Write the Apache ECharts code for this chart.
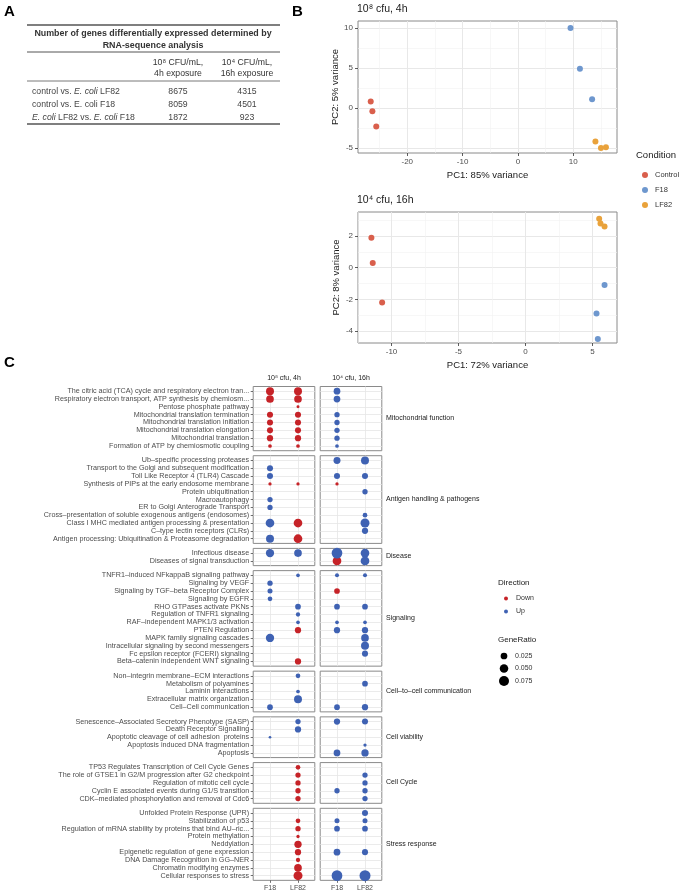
<!DOCTYPE html>
<html><head><meta charset="utf-8">
<script src="https://cdn.jsdelivr.net/npm/echarts@6/dist/echarts.min.js"></script>
<style>html,body{margin:0;padding:0;background:#fff}#c{width:679px;height:891px}</style>
</head><body><div id="c"></div>
<script>
// ---------------- Panel A: table ----------------
const tableTitle = ['Number of genes differentially expressed determined by', 'RNA-sequence analysis'];
const tableColHeads = [['10⁸ CFU/mL,', '4h exposure'], ['10⁴ CFU/mL,', '16h exposure']];
const tableRowLabels = ['control vs. {i|E. coli} LF82', 'control vs. E. coli F18', '{i|E. coli} LF82 vs. {i|E. coli} F18'];
const table4h = [8675, 8059, 1872];
const table16h = [4315, 4501, 923];

// ---------------- Panel B: PCA ----------------
const pcaTitles = ['10⁸ cfu, 4h', '10⁴ cfu, 16h'];
const pcaXNames = ['PC1: 85% variance', 'PC1: 72% variance'];
const pcaYNames = ['PC2: 5% variance', 'PC2: 8% variance'];
const conditionNames = ['Control', 'F18', 'LF82'];
const pca4hControl = [[-26.6, 0.8], [-26.3, -0.4], [-25.6, -2.3]];
const pca4hF18 = [[9.5, 10.0], [11.2, 4.9], [13.4, 1.1]];
const pca4hLF82 = [[14.0, -4.2], [15.0, -5.0], [15.9, -4.9]];
const pca16hControl = [[-11.5, 1.9], [-11.4, 0.3], [-10.7, -2.2]];
const pca16hF18 = [[5.9, -1.1], [5.3, -2.9], [5.4, -4.5]];
const pca16hLF82 = [[5.5, 3.1], [5.6, 2.8], [5.9, 2.6]];
const pca4hXTicks = [-20, -10, 0, 10];
const pca4hYTicks = [-5, 0, 5, 10];
const pca16hXTicks = [-10, -5, 0, 5];
const pca16hYTicks = [-4, -2, 0, 2];

// ---------------- Panel C: enrichment dot plot ----------------
const exposureLabels = ['10⁸ cfu, 4h', '10⁴ cfu, 16h'];
const strainLabels = ['F18', 'LF82'];
const directionNames = ['Down', 'Up'];
const geneRatioLegend = [0.025, 0.050, 0.075];
// GeneRatio per pathway: [4h F18, 4h LF82, 16h F18, 16h LF82]; sign = direction (- Down, + Up), 0 = not enriched
const groupNames = ['Mitochondrial function', 'Antigen handling & pathogens', 'Disease', 'Signaling',
  'Cell\u2013to\u2013cell communication', 'Cell viability', 'Cell Cycle', 'Stress response'];
const mitoPathways = ['The citric acid (TCA) cycle and respiratory electron tran...', 'Respiratory electron transport, ATP synthesis by chemiosm...',
  'Pentose phosphate pathway', 'Mitochondrial translation termination', 'Mitochondrial translation initiation',
  'Mitochondrial translation elongation', 'Mitochondrial translation', 'Formation of ATP by chemiosmotic coupling'];
const mitoRatios = [[-0.041, -0.041, 0.025, 0], [-0.037, -0.037, 0.025, 0], [0, -0.0006, 0, 0],
  [-0.018, -0.018, 0.0115, 0], [-0.018, -0.018, 0.0115, 0], [-0.018, -0.018, 0.0115, 0],
  [-0.02, -0.02, 0.0115, 0], [-0.0025, -0.0025, 0.0025, 0]];
const antigenPathways = ['Ub\u2013specific processing proteases', 'Transport to the Golgi and subsequent modification',
  'Toll Like Receptor 4 (TLR4) Cascade', 'Synthesis of PIPs at the early endosome membrane', 'Protein ubiquitination',
  'Macroautophagy', 'ER to Golgi Anterograde Transport', 'Cross\u2013presentation of soluble exogenous antigens (endosomes)',
  'Class I MHC mediated antigen processing & presentation', 'C\u2013type lectin receptors (CLRs)',
  'Antigen processing: Ubiquitination & Proteasome degradation'];
const antigenRatios = [[0, 0, 0.028, 0.041], [0.018, 0, 0, 0], [0.018, 0, 0.018, 0.018], [-0.0013, -0.0013, -0.0013, 0],
  [0, 0, 0, 0.0115], [0.0115, 0, 0, 0], [0.0115, 0, 0, 0], [0, 0, 0, 0.0073], [0.052, -0.052, 0, 0.057],
  [0, 0, 0, 0.02], [0.041, -0.052, 0, 0]];
const diseasePathways = ['Infectious disease', 'Diseases of signal transduction'];
const diseaseRatios = [[0.046, 0.037, 0.09, 0.052], [0, 0, -0.052, 0.052]];
const signalingPathways = ['TNFR1\u2013induced NFkappaB signaling pathway', 'Signaling by VEGF', 'Signaling by TGF\u2013beta Receptor Complex',
  'Signaling by EGFR', 'RHO GTPases activate PKNs', 'Regulation of TNFR1 signaling', 'RAF\u2013independent MAPK1/3 activation',
  'PTEN Regulation', 'MAPK family signaling cascades', 'Intracellular signaling by second messengers',
  'Fc epsilon receptor (FCERI) signaling', 'Beta\u2013catenin independent WNT signaling'];
const signalingRatios = [[0, 0.0025, 0.0037, 0.0037], [0.0115, 0, 0, 0], [0.0093, 0, -0.0147, 0], [0.0073, 0, 0, 0],
  [0, 0.0147, 0.0147, 0.0147], [0, 0.0051, 0, 0], [0, 0.0025, 0.0025, 0.0025], [0, -0.02, 0.02, 0.02],
  [0.046, 0, 0, 0.037], [0, 0, 0, 0.041], [0, 0, 0, 0.018], [0, -0.02, 0, 0]];
const cellPathways = ['Non\u2013integrin membrane\u2013ECM interactions', 'Metabolism of polyamines', 'Laminin interactions',
  'Extracellular matrix organization', 'Cell\u2013Cell communication'];
const cellRatios = [[0, 0.0073, 0, 0], [0, 0, 0, 0.0147], [0, 0.0025, 0, 0], [0, 0.041, 0, 0], [0.0147, 0, 0.0147, 0.02]];
const viabilityPathways = ['Senescence\u2013Associated Secretory Phenotype (SASP)', 'Death Receptor Signalling',
  'Apoptotic cleavage of cell adhesion  proteins', 'Apoptosis induced DNA fragmentation', 'Apoptosis'];
const viabilityRatios = [[0, 0.0115, 0.02, 0.018], [0, 0.02, 0, 0], [0.0002, 0, 0, 0], [0, 0, 0, 0.0013], [0, 0, 0.025, 0.032]];
const cyclePathways = ['TP53 Regulates Transcription of Cell Cycle Genes', 'The role of GTSE1 in G2/M progression after G2 checkpoint',
  'Regulation of mitotic cell cycle', 'Cyclin E associated events during G1/S transition',
  'CDK\u2013mediated phosphorylation and removal of Cdc6'];
const cycleRatios = [[0, -0.0073, 0, 0], [0, -0.0115, 0, 0.0115], [0, -0.0115, 0, 0.0115], [0, -0.0115, 0.0115, 0.0115],
  [0, -0.0115, 0, 0.0115]];
const stressPathways = ['Unfolded Protein Response (UPR)', 'Stabilization of p53',
  'Regulation of mRNA stability by proteins that bind AU\u2013ric...', 'Protein methylation', 'Neddylation',
  'Epigenetic regulation of gene expression', 'DNA Damage Recognition in GG\u2013NER', 'Chromatin modifying enzymes',
  'Cellular responses to stress'];
const stressRatios = [[0, 0, 0, 0.018], [0, -0.0073, 0.0093, 0.0093], [0, -0.0115, 0.0147, 0.0147], [0, -0.0013, 0, 0],
  [0, -0.032, 0, 0], [0, -0.02, 0.025, 0.018], [0, -0.0051, 0, 0], [0, -0.037, 0, 0], [0, -0.057, 0.09, 0.097]];

const groupPathways = [mitoPathways, antigenPathways, diseasePathways, signalingPathways, cellPathways, viabilityPathways, cyclePathways, stressPathways];
const groupRatios = [mitoRatios, antigenRatios, diseaseRatios, signalingRatios, cellRatios, viabilityRatios, cycleRatios, stressRatios];

// ---------------- styles ----------------
const FONT = 'Liberation Sans, Arial, Helvetica, sans-serif';
const condColors = ['#D95F4C', '#6E97CE', '#E9A23B'];
const dirColors = ['#C62328', '#3F62B3'];
const txtDark = '#1a1a1a', txtAxis = '#4d4d4d';
const dotSize = v => 2.3 + 28 * Math.sqrt(v);
const noLine = { show: false, onZero: false };

const grids = [], xAxes = [], yAxes = [], series = [], graphics = [];

// ---- PCA panels ----
function halfSteps(ticks) { const s = ticks[1] - ticks[0]; const out = []; for (let v = ticks[0] - s * 2.5; v <= ticks[ticks.length - 1] + s * 2.5; v += s) out.push(v); return out; }
const pcaCfg = [
  { top: 21, bottom: 153, xr: [-28.9, 17.9], yr: [-5.625, 10.875], xt: pca4hXTicks, yt: pca4hYTicks, data: [pca4hControl, pca4hF18, pca4hLF82] },
  { top: 212, bottom: 343, xr: [-12.5, 6.83], yr: [-4.76, 3.52], xt: pca16hXTicks, yt: pca16hYTicks, data: [pca16hControl, pca16hF18, pca16hLF82] }
];
pcaCfg.forEach((p, k) => {
  grids.push({ left: 358, width: 259, top: p.top, height: p.bottom - p.top, show: true, borderColor: '#8a8a8a', borderWidth: 1, outerBoundsMode: 'none' });
  const lbl = { fontSize: 8, color: txtAxis, fontFamily: FONT };
  const base = (vals) => ({ customValues: vals });
  xAxes.push({ gridIndex: k, type: 'value', position: 'bottom', min: p.xr[0], max: p.xr[1], axisLine: noLine,
    axisTick: { ...base(p.xt), length: 3, lineStyle: { color: '#333', width: 0.8 } },
    axisLabel: { ...base(p.xt), ...lbl, margin: 5 },
    splitLine: { show: true, lineStyle: { color: '#e8e8e8', width: 1 } },
    name: pcaXNames[k], nameLocation: 'middle', nameGap: 17, nameTextStyle: { fontSize: 9.5, color: txtDark, fontFamily: FONT } });
  const xMinor = halfSteps(p.xt).filter(v => p.xt.indexOf(v) < 0);
  xAxes.push({ gridIndex: k, type: 'value', position: 'bottom', min: p.xr[0], max: p.xr[1], axisLine: noLine,
    axisTick: { show: false, customValues: xMinor }, axisLabel: { show: false },
    splitLine: { show: true, lineStyle: { color: '#f2f2f2', width: 0.6 } } });
  yAxes.push({ gridIndex: k, type: 'value', position: 'left', min: p.yr[0], max: p.yr[1], axisLine: noLine,
    axisTick: { ...base(p.yt), length: 3, lineStyle: { color: '#333', width: 0.8 } },
    axisLabel: { ...base(p.yt), ...lbl, margin: 5 },
    splitLine: { show: true, lineStyle: { color: '#e8e8e8', width: 1 } },
    name: pcaYNames[k], nameLocation: 'middle', nameGap: 17, nameRotate: 90, nameTextStyle: { fontSize: 9.5, color: txtDark, fontFamily: FONT } });
  const yMinor = halfSteps(p.yt).filter(v => p.yt.indexOf(v) < 0);
  yAxes.push({ gridIndex: k, type: 'value', position: 'left', min: p.yr[0], max: p.yr[1], axisLine: noLine,
    axisTick: { show: false, customValues: yMinor }, axisLabel: { show: false },
    splitLine: { show: true, lineStyle: { color: '#f2f2f2', width: 0.6 } } });
  p.data.forEach((d, c) => series.push({ type: 'scatter', name: conditionNames[c], xAxisIndex: 2 * k, yAxisIndex: 2 * k,
    data: d, symbolSize: 6, itemStyle: { color: condColors[c], opacity: 1 }, silent: true, z: 5 }));
  graphics.push({ type: 'text', left: 357, top: p.top - 17, style: { text: pcaTitles[k], fontSize: 10.5, fill: txtDark, fontFamily: FONT } });
});

// ---- Dot-plot panels ----
const unit = 7.83, vGap = 5, top0 = 386.5, panelW = 61.6, panelLeft = [253.2, 320.2];
let yCur = top0;
groupPathways.forEach((paths, g) => {
  const n = paths.length, h = (n + 0.2) * unit, isLast = g === groupPathways.length - 1;
  for (let t = 0; t < 2; t++) {
    const gi = grids.length, ai = xAxes.length;
    grids.push({ left: panelLeft[t], width: panelW, top: yCur, height: h, show: true, borderColor: '#8a8a8a', borderWidth: 1, outerBoundsMode: 'none' });
    const rowIdx = paths.map((_, i) => i);
    xAxes.push({ gridIndex: gi, type: 'value', position: 'bottom', min: -0.6, max: 1.6, axisLine: noLine,
      axisTick: { show: isLast, customValues: [0, 1], length: 2.5, lineStyle: { color: '#333', width: 0.7 } },
      axisLabel: { show: isLast, customValues: [0, 1], formatter: v => strainLabels[Math.round(v)], fontSize: 7, color: txtAxis, fontFamily: FONT, margin: 4 },
      splitLine: { show: true, lineStyle: { color: '#e6e6e6', width: 0.8 } } });
    yAxes.push({ gridIndex: gi, type: 'value', position: 'left', inverse: true, min: -0.6, max: n - 0.4, axisLine: noLine,
      axisTick: { show: t === 0, customValues: rowIdx, length: 2.5, lineStyle: { color: '#333', width: 0.7 } },
      axisLabel: { show: t === 0, customValues: rowIdx, formatter: v => paths[Math.round(v)], fontSize: 7.2, color: txtAxis, fontFamily: FONT, margin: 4 },
      splitLine: { show: true, lineStyle: { color: '#e6e6e6', width: 0.8 } } });
    const down = [], up = [];
    groupRatios[g].forEach((row, i) => {
      for (let c = 0; c < 2; c++) {
        const v = row[t * 2 + c];
        if (v < 0) down.push([c, i, -v]); else if (v > 0) up.push([c, i, v]);
      }
    });
    [down, up].forEach((d, di) => series.push({ type: 'scatter', name: directionNames[di], xAxisIndex: ai, yAxisIndex: ai,
      data: d, symbolSize: v => dotSize(v[2]), itemStyle: { color: dirColors[di], opacity: 1 }, silent: true, z: 5 }));
  }
  graphics.push({ type: 'text', left: 386, top: yCur + h / 2 - 4, style: { text: groupNames[g], fontSize: 7, fill: txtDark, fontFamily: FONT } });
  yCur += h + vGap;
});
exposureLabels.forEach((s, t) => graphics.push({ type: 'text', x: panelLeft[t] + panelW / 2, y: 378,
  style: { text: s, fontSize: 7, fill: txtDark, fontFamily: FONT, align: 'center', verticalAlign: 'middle' } }));

// ---- Panel labels ----
[['A', 4, 4], ['B', 292, 4], ['C', 4, 355]].forEach(([t, x, y]) => graphics.push({ type: 'text', left: x, top: y,
  style: { text: t, fontSize: 15, fontWeight: 'bold', fill: '#000', fontFamily: FONT } }));

// ---- Table (panel A) ----
const tl = 27, tr = 280, tFont = 8.7;
[[25, 1.4], [52, 1], [81, 0.8], [124, 1.4]].forEach(([y, w]) => graphics.push({ type: 'line', shape: { x1: tl, y1: y, x2: tr, y2: y }, style: { stroke: '#555', lineWidth: w } }));
tableTitle.forEach((s, i) => graphics.push({ type: 'text', x: 153, y: 34 + i * 12,
  style: { text: s, fontSize: 8.9, fontWeight: 'bold', fill: '#333', fontFamily: FONT, align: 'center', verticalAlign: 'middle' } }));
const colX = [178, 247];
tableColHeads.forEach((lines, c) => lines.forEach((s, i) => graphics.push({ type: 'text', x: colX[c], y: 63 + i * 11,
  style: { text: s, fontSize: tFont, fill: '#333', fontFamily: FONT, align: 'center', verticalAlign: 'middle' } })));
tableRowLabels.forEach((s, i) => {
  const y = 92 + i * 13;
  graphics.push({ type: 'text', x: 32, y, style: { text: s, fontSize: tFont, fill: '#444', fontFamily: FONT, align: 'left', verticalAlign: 'middle',
    rich: { i: { fontStyle: 'italic', fontSize: tFont, fill: '#444', fontFamily: FONT } } } });
  [table4h[i], table16h[i]].forEach((v, c) => graphics.push({ type: 'text', x: colX[c], y,
    style: { text: String(v), fontSize: tFont, fill: '#444', fontFamily: FONT, align: 'center', verticalAlign: 'middle' } }));
});

// ---- Legend titles & GeneRatio legend ----
graphics.push({ type: 'text', left: 636, top: 150, style: { text: 'Condition', fontSize: 9.5, fill: txtDark, fontFamily: FONT } });
graphics.push({ type: 'text', left: 498, top: 579, style: { text: 'Direction', fontSize: 8, fill: txtDark, fontFamily: FONT } });
graphics.push({ type: 'text', left: 498, top: 636, style: { text: 'GeneRatio', fontSize: 8, fill: txtDark, fontFamily: FONT } });
geneRatioLegend.forEach((v, i) => {
  const cy = 656 + i * 12.5;
  graphics.push({ type: 'circle', shape: { cx: 504, cy, r: dotSize(v) / 2 }, style: { fill: '#000' } });
  graphics.push({ type: 'text', x: 515, y: cy, style: { text: v.toFixed(3), fontSize: 7, fill: '#333', fontFamily: FONT, verticalAlign: 'middle' } });
});

const chart = echarts.init(document.getElementById('c'), null, { renderer: 'canvas' });
chart.setOption({
  animation: false,
  backgroundColor: '#fff',
  textStyle: { fontFamily: FONT },
  grid: grids, xAxis: xAxes, yAxis: yAxes, series,
  legend: [
    { data: conditionNames, orient: 'vertical', left: 637, top: 166, icon: 'circle', itemWidth: 10, itemHeight: 6, itemGap: 7,
      textStyle: { fontSize: 7.5, color: '#333', fontFamily: FONT }, selectedMode: false },
    { data: directionNames, orient: 'vertical', left: 499, top: 590, icon: 'circle', itemWidth: 10, itemHeight: 4, itemGap: 6,
      textStyle: { fontSize: 7, color: '#333', fontFamily: FONT }, selectedMode: false }
  ],
  graphic: graphics
});
</script></body></html>
